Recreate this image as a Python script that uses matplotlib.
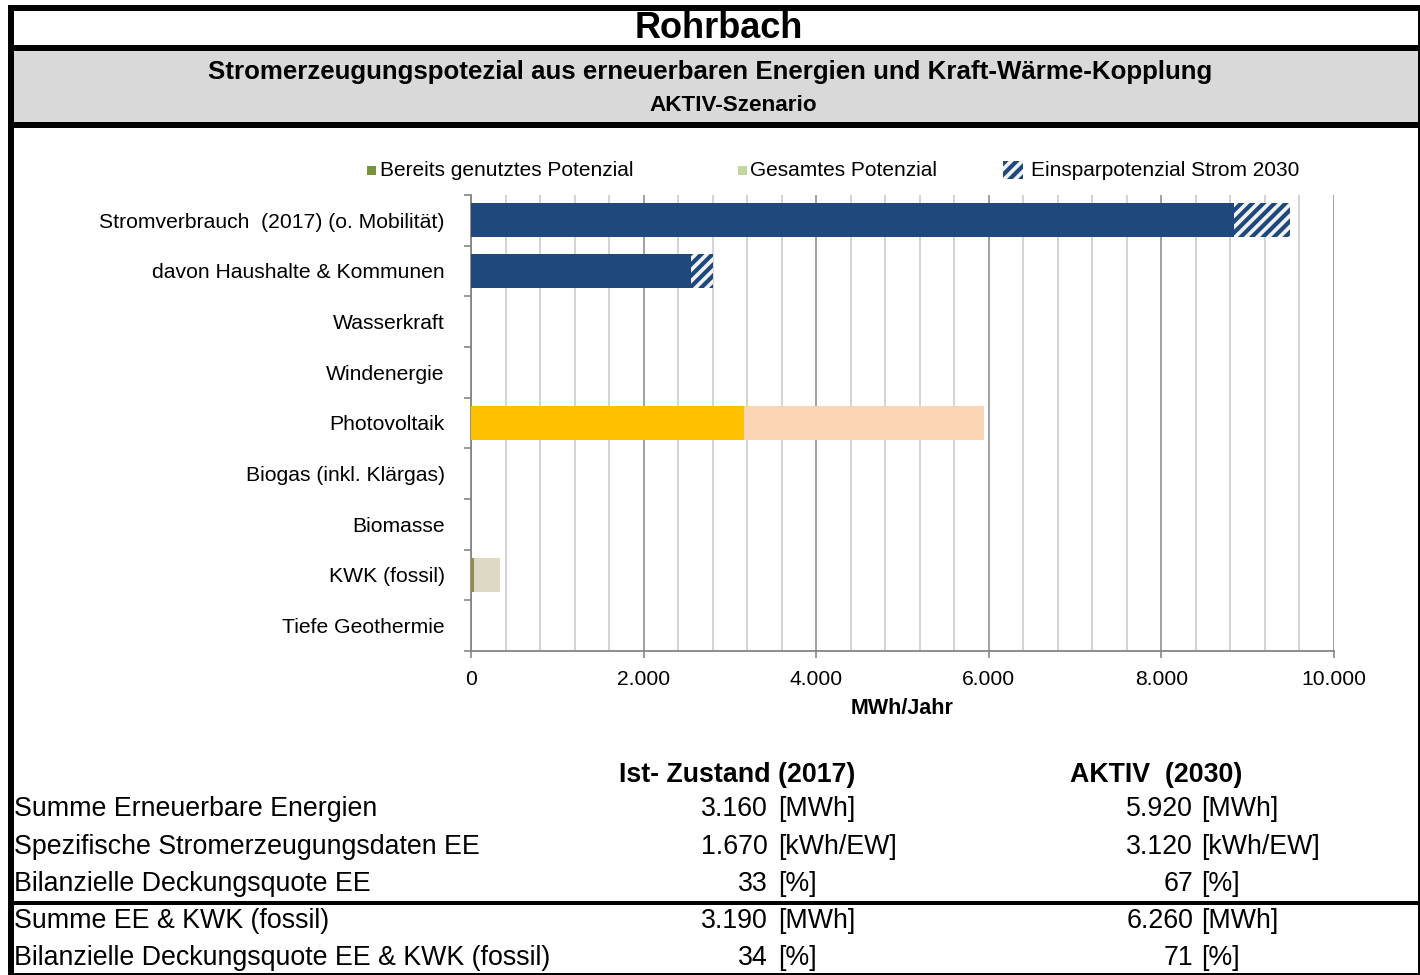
import numpy as np
import matplotlib
matplotlib.use("Agg")
import matplotlib.pyplot as plt
from matplotlib.patches import Rectangle
from matplotlib.ticker import MultipleLocator, FixedLocator, FuncFormatter

plt.rcParams['font.family'] = ['Liberation Sans', 'DejaVu Sans']
plt.rcParams['hatch.linewidth'] = 3.0

# --- data ---
categories = ["Stromverbrauch  (2017) (o. Mobilität)", "davon Haushalte & Kommunen",
              "Wasserkraft", "Windenergie", "Photovoltaik", "Biogas (inkl. Klärgas)",
              "Biomasse", "KWK (fossil)", "Tiefe Geothermie"]
verbrauch_2030 = [8840, 2550, 0, 0, 0, 0, 0, 0, 0]
einsparung_2030 = [650, 255, 0, 0, 0, 0, 0, 0, 0]
genutzt = [0, 0, 0, 0, 3160, 0, 0, 30, 0]
gesamt = [0, 0, 0, 0, 5940, 0, 0, 340, 0]
col_genutzt = ["#FFC000"] * 7 + ["#948A54", "#FFC000"]
col_gesamt = ["#FCD5B5"] * 7 + ["#DDD9C4", "#FCD5B5"]

legend_labels = ["Bereits genutztes Potenzial", "Gesamtes Potenzial", "Einsparpotenzial Strom 2030"]

row_labels = ["Summe Erneuerbare Energien", "Spezifische Stromerzeugungsdaten EE",
              "Bilanzielle Deckungsquote EE", "Summe EE & KWK (fossil)",
              "Bilanzielle Deckungsquote EE & KWK (fossil)"]
ist_2017 = [3160, 1670, 33, 3190, 34]
aktiv_2030 = [5920, 3120, 67, 6260, 71]
units = ["[MWh]", "[kWh/EW]", "[%]", "[MWh]", "[%]"]
col_headers = ["Ist- Zustand (2017)", "AKTIV  (2030)"]

W, H = 1420, 975


def fx(px):
    return px / W


def fy(py):
    return 1 - py / H


def de(v):
    """German thousands separator"""
    return f"{v:,.0f}".replace(",", ".")


def box(fig, x0, y0, x1, y1, **kw):
    r = Rectangle((fx(x0), fy(y1)), (x1 - x0) / W, (y1 - y0) / H,
                  transform=fig.transFigure, **kw)
    fig.add_artist(r)
    return r


fig = plt.figure(figsize=(W / 100, H / 100), dpi=100)
fig.patch.set_facecolor("white")

# header frame
box(fig, 8, 5, 1420, 11, color="black", lw=0)
box(fig, 8, 45, 1420, 51, color="black", lw=0)
box(fig, 14, 51, 1418, 122, color="#D9D9D9", lw=0)
box(fig, 8, 122, 1420, 128, color="black", lw=0)
box(fig, 8, 5, 14, 975, color="black", lw=0)
box(fig, 1418, 5, 1420, 975, color="black", lw=0)
box(fig, 8, 973, 1420, 975, color="black", lw=0)
box(fig, 14, 901, 1418, 905, color="black", lw=0)

fig.text(fx(719), fy(29), "Rohrbach", ha="center", va="center", fontsize=26, fontweight="bold")
fig.text(fx(710), fy(72), "Stromerzeugungspotezial aus erneuerbaren Energien und Kraft-Wärme-Kopplung",
         ha="center", va="center", fontsize=18.6, fontweight="bold")
fig.text(fx(733), fy(105), "AKTIV-Szenario", ha="center", va="center", fontsize=16.2, fontweight="bold")

# chart
ax = fig.add_axes([fx(471), fy(651), 863 / W, 456 / H])
y = np.arange(len(categories))
h = 0.666
ax.barh(y, verbrauch_2030, height=h, color="#1F497D", lw=0, zorder=3)
ax.barh(y, einsparung_2030, left=verbrauch_2030, height=h, facecolor="#F2F2F2",
        edgecolor="#1F497D", hatch="///", lw=0, zorder=3)
rest = np.array(gesamt) - np.array(genutzt)
ax.barh(y, genutzt, height=h, color=col_genutzt, lw=0, zorder=3)
ax.barh(y, rest, left=genutzt, height=h, color=col_gesamt, lw=0, zorder=3)

ax.set_xlim(0, 10000)
ax.set_ylim(len(categories) - 0.5, -0.5)
ax.xaxis.set_major_locator(MultipleLocator(2000))
ax.xaxis.set_minor_locator(MultipleLocator(400))
ax.xaxis.set_major_formatter(FuncFormatter(lambda v, p: de(v)))
ax.grid(which="major", axis="x", color="#9A9A9A", lw=1.3, zorder=0)
ax.grid(which="minor", axis="x", color="#D0D0D0", lw=1.3, zorder=0)
ax.set_axisbelow(True)
ax.set_yticks(y)
ax.set_yticklabels(categories)
ax.yaxis.set_minor_locator(FixedLocator(np.arange(-0.5, len(categories), 1)))
ax.tick_params(axis="y", which="major", length=0, pad=19, labelsize=15.2)
ax.tick_params(axis="y", which="minor", length=5, width=1.2, color="#868686")
ax.tick_params(axis="x", which="major", length=5, width=1.2, color="#868686", pad=9, labelsize=15.2)
ax.tick_params(axis="x", which="minor", length=0)
for s in ["top", "right"]:
    ax.spines[s].set_visible(False)
for s in ["left", "bottom"]:
    ax.spines[s].set_color("#868686")
    ax.spines[s].set_linewidth(1.3)
ax.set_xlabel("MWh/Jahr", fontsize=15.5, fontweight="bold", labelpad=6)

# legend
box(fig, 367, 166, 376, 175, color="#77933C", lw=0)
fig.text(fx(380), fy(170), legend_labels[0], ha="left", va="center", fontsize=15)
box(fig, 738, 166, 747, 175, color="#C3D69B", lw=0)
fig.text(fx(750), fy(170), legend_labels[1], ha="left", va="center", fontsize=15)
box(fig, 1003, 161, 1023, 179, facecolor="#F2F2F2", edgecolor="#1F497D", hatch="///", lw=0)
fig.text(fx(1031), fy(170), legend_labels[2], ha="left", va="center", fontsize=15)

# table
fs = 19.3
fig.text(fx(737), fy(775), col_headers[0], ha="center", va="center", fontsize=fs, fontweight="bold")
fig.text(fx(1156), fy(775), col_headers[1], ha="center", va="center", fontsize=fs, fontweight="bold")
row_y = [809, 847, 884, 921, 958]
for i, lab in enumerate(row_labels):
    fig.text(fx(14), fy(row_y[i]), lab, ha="left", va="center", fontsize=fs)
    fig.text(fx(768), fy(row_y[i]), de(ist_2017[i]), ha="right", va="center", fontsize=fs)
    fig.text(fx(778), fy(row_y[i]), units[i], ha="left", va="center", fontsize=fs)
    fig.text(fx(1193), fy(row_y[i]), de(aktiv_2030[i]), ha="right", va="center", fontsize=fs)
    fig.text(fx(1201), fy(row_y[i]), units[i], ha="left", va="center", fontsize=fs)

fig.savefig("out.png", dpi=100)
